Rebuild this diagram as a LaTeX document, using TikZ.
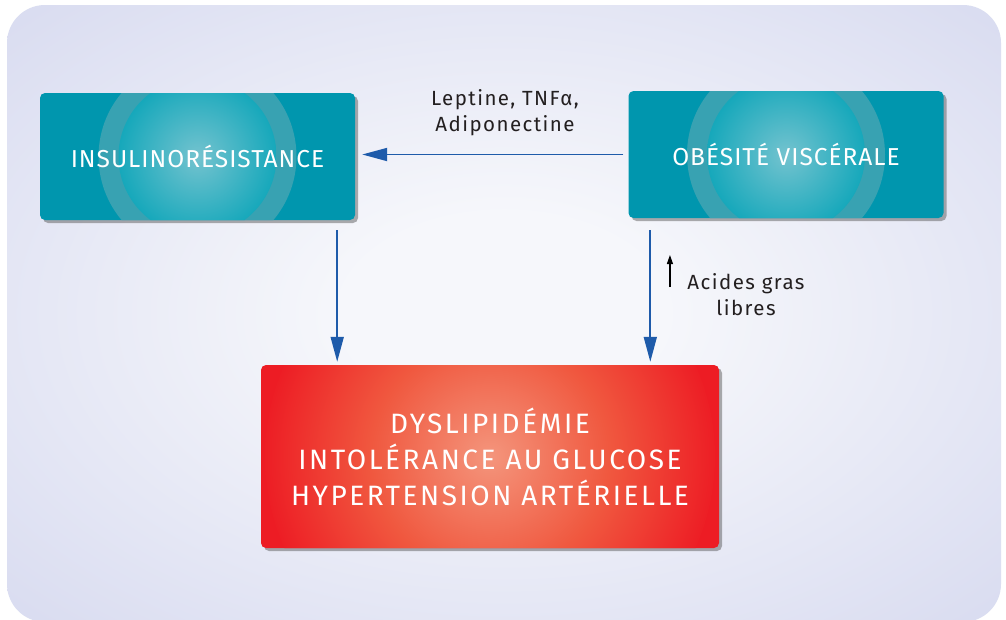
\documentclass[tikz,border=0pt]{standalone}
\usepackage{fontspec}
\setmainfont{Fira Sans}
\newfontfamily\boxfont[LetterSpace=4]{Fira Sans}
\newfontfamily\redfont[LetterSpace=9]{Fira Sans}
\newfontfamily\labelfont[LetterSpace=7]{Fira Sans}
\usetikzlibrary{arrows.meta,shadows}

\definecolor{bgedge}{HTML}{D8DBF0}
\definecolor{bgcenter}{HTML}{F6F7FB}
\definecolor{tealbase}{HTML}{0096AE}
\definecolor{tealring}{HTML}{38A2B2}
\definecolor{tealinner}{HTML}{16A8BB}
\definecolor{tealcenter}{HTML}{74C3CF}
\definecolor{rededge}{HTML}{ED1C24}
\definecolor{redmid}{HTML}{F0583F}
\definecolor{redcenter}{HTML}{F4957C}
\definecolor{flowblue}{HTML}{1E5BAA}
\definecolor{labelgrey}{HTML}{231F20}

\pgfdeclareradialshading{bgglow}{\pgfpoint{0bp}{0bp}}{color(0bp)=(bgcenter); color(8bp)=(bgcenter); color(36bp)=(bgedge); color(50bp)=(bgedge)}
\pgfdeclareradialshading{tealglow}{\pgfpoint{0bp}{0bp}}{color(0bp)=(tealcenter); color(25bp)=(tealinner); color(50bp)=(tealinner)}
\pgfdeclareradialshading{redglow}{\pgfpoint{0bp}{0bp}}{color(0bp)=(redcenter); color(13bp)=(redmid); color(25bp)=(rededge); color(50bp)=(rededge)}

\tikzset{
	tealbox/.style={rectangle, rounded corners=5pt, fill=tealbase, minimum width=315pt, minimum height=127pt,
		text=white, font=\boxfont\fontsize{24.5}{28}\selectfont,
		drop shadow={shadow xshift=3pt, shadow yshift=-3pt, opacity=0.45, fill=black!70},
		path picture={
			\fill[tealring] (path picture bounding box.center) circle (99pt);
			\shade[shading=tealglow] (path picture bounding box.center) circle (79pt);
		}},
	redbox/.style={rectangle, rounded corners=5pt, fill=rededge, minimum width=458pt, minimum height=183pt,
		text=white, align=center, font=\redfont\fontsize{28}{36}\selectfont,
		drop shadow={shadow xshift=3pt, shadow yshift=-3pt, opacity=0.45, fill=black!70},
		path picture={
			\shade[shading=redglow] (path picture bounding box.center) circle (225pt);
		}},
	tagtext/.style={text=labelgrey, align=center, font=\labelfont\fontsize{20.5}{26}\selectfont},
	flow/.style={draw=flowblue, line width=1.8pt, -{Triangle[length=25pt, width=13pt]}},
	upmark/.style={draw=black, line width=1.2pt, -{Triangle[length=9pt, width=6pt]}}
}

\begin{document}
\begin{tikzpicture}[x=1pt, y=-1pt]

	\useasboundingbox (0,0) rectangle (1006,619);
	\fill[white] (0,0) rectangle (1006,619);
	\shade[shading=bgglow, rounded corners=38pt] (7,5) rectangle (1001,622);

	\node[tealbox] (insulin) at (197.5, 156.5) {INSULINORÉSISTANCE};
	\node[tealbox] (obesity) at (786, 154.5)   {OBÉSITÉ VISCÉRALE};
	\node[redbox]  (syndrome) at (490, 456.5)  {DYSLIPIDÉMIE\\INTOLÉRANCE AU GLUCOSE\\HYPERTENSION ARTÉRIELLE};

	\node[tagtext] (adipo) at (505, 113)  {Leptine, TNFα,\\Adiponectine};
	\node[tagtext] (acides) at (746, 295) {Acides gras\\libres};

	\draw[flow] ([shift={(-5,0)}]obesity.west) -- (obesity.west -| insulin.east) [shorten >=7pt];
	\draw[flow] ([shift={(-18,10)}]insulin.south east) coordinate (ia) -- (ia |- syndrome.north) [shorten >=3pt];
	\draw[flow] ([shift={(22,12)}]obesity.south west) coordinate (ob) -- (ob |- syndrome.north) [shorten >=3pt];
	\draw[upmark] ([shift={(-14,-8)}]acides.west) coordinate (am) -- ++(0,-32);

\end{tikzpicture}
\end{document}
